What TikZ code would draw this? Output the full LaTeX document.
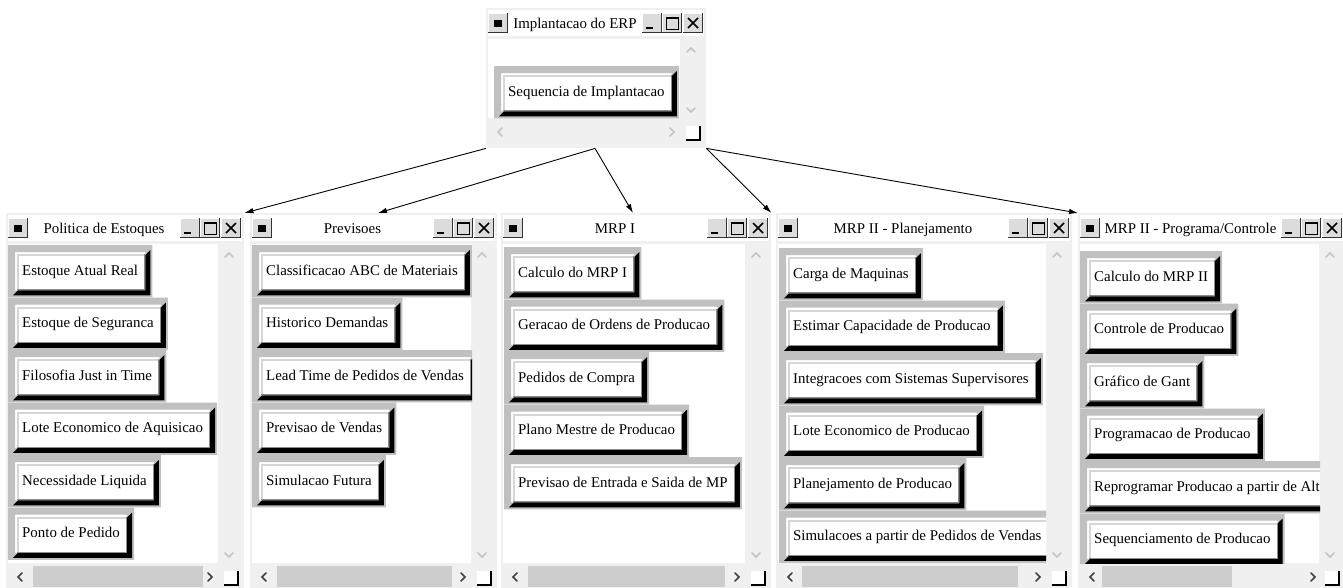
\documentclass[tikz,border=0pt]{standalone}
\usepackage{fontspec}
\setmainfont{Liberation Serif}
\usetikzlibrary{calc,arrows.meta}

\definecolor{winbg}{HTML}{F0F0F0}
\definecolor{framegray}{HTML}{C0C0C0}
\definecolor{facehl}{HTML}{D6D6D6}
\definecolor{thumbgray}{HTML}{CDCDCD}
\definecolor{chevoff}{HTML}{C4C4C4}
\definecolor{chevon}{HTML}{404040}
\definecolor{tbface}{HTML}{DCDCDC}

\tikzset{
  winbox/.style={fill=winbg, draw=none, inner sep=0pt, anchor=north west},
  btnface/.style={fill=white, inner xsep=7pt, inner ysep=0pt, minimum height=38pt,
    text height=11pt, text depth=3pt, anchor=north west,
    font=\fontsize{14.9}{18}\selectfont, text=black},
  wtitle/.style={font=\fontsize{14.9}{18}\selectfont, inner sep=0pt, anchor=base},
  chev/.style={line width=1.6pt, line cap=round},
  link/.style={draw=black, line width=0.9pt, -{Latex[length=9pt,width=5.5pt]}},
}

% raised caption button (x0,y0,x1,y1)
\newcommand\tbbtn[4]{%
  \fill[tbface] (#1,#2) rectangle (#3,#4);
  \draw[white, line width=1pt] (#1+0.5,#4-1) -- (#1+0.5,#2+0.5) -- (#3-1,#2+0.5);
  \draw[black!80, line width=1.2pt] (#1,#4-0.6) -- (#3-0.6,#4-0.6) -- (#3-0.6,#2);
}

% scroll-bar arrows: centre x, centre y, colour
\newcommand\chevup[3]{\draw[chev,#3] (#1-4,#2+2) -- (#1,#2-2) -- (#1+4,#2+2);}
\newcommand\chevdown[3]{\draw[chev,#3] (#1-4,#2-2) -- (#1,#2+2) -- (#1+4,#2-2);}
\newcommand\chevleft[3]{\draw[chev,#3] (#1+2,#2-4) -- (#1-2,#2) -- (#1+2,#2+4);}
\newcommand\chevright[3]{\draw[chev,#3] (#1-2,#2-4) -- (#1+2,#2) -- (#1-2,#2+4);}

% size grip in the lower right corner
\newcommand\gripbox[2]{%
  \fill[white] (#1,#2) rectangle (#1+14,#2+14);
  \draw[black, line width=1.4pt] (#1,#2+14) -- (#1+14,#2+14) -- (#1+14,#2);
}

% window: name, left, right, top, content bottom, window bottom, caption
\newcommand\dlgwin[7]{%
  \node[winbox, minimum width={(#3-#2)*1pt}, minimum height={(#6-#4)*1pt}] (#1) at (#2,#4) {};
  \fill[white] (#2+2,#4+2) rectangle (#3-2,#4+28);
  \tbbtn{#2+2}{#4+5}{#2+22}{#4+25}
  \fill[black] (#2+8,#4+11.5) rectangle (#2+16,#4+18.5);
  \tbbtn{#3-64}{#4+5}{#3-44}{#4+25}
  \fill[black] (#3-60,#4+18.5) rectangle (#3-53,#4+21);
  \tbbtn{#3-44}{#4+5}{#3-24}{#4+25}
  \draw[black, line width=1pt] (#3-40,#4+9) rectangle (#3-28,#4+21);
  \draw[black, line width=2pt] (#3-40,#4+10) -- (#3-28,#4+10);
  \tbbtn{#3-23}{#4+5}{#3-3}{#4+25}
  \draw[black, line width=1.5pt] (#3-18,#4+10) -- (#3-8,#4+20) (#3-18,#4+20) -- (#3-8,#4+10);
  \node[wtitle] (#1-cap) at ({(#2+22+#3-64)/2},#4+20) {#7};
  \fill[white] (#2+2,#4+31) rectangle (#3-26,#5);
  \chevup{#3-15}{#4+42}{chevoff}
  \chevdown{#3-15}{#5-8}{chevoff}
  \gripbox{#3-20}{#5+8}
}

% push button: name, frame left, frame top, label
\newcommand\btnrim[1]{%
  \fill[framegray, even odd rule] ($(#1.north west)+(-7,-7)$) rectangle ($(#1.south east)+(7,7)$)
    (#1.north west) rectangle (#1.south east);
  \fill[black] ($(#1.north east)+(0,3)$) -- ($(#1.north east)+(5,-2)$) -- ($(#1.south east)+(5,5)$)
    -- ($(#1.south west)+(-2,5)$) -- ($(#1.south west)+(3,0)$) -- (#1.south east) -- cycle;
  \draw[facehl, line width=2pt] ($(#1.south west)+(3,-1)$) -- ($(#1.north west)+(3,3)$) -- ($(#1.north east)+(-1,3)$);
  \draw[black!45, line width=1pt] ($(#1.north east)+(-0.5,2)$) -- ($(#1.south east)+(-0.5,-0.5)$) -- ($(#1.south west)+(2,-0.5)$);
}
\newcommand\pushbtn[4]{%
  \node[btnface] (#1) at (#2+7,#3+7) {#4};
  \btnrim{#1}
}

\begin{document}
\begin{tikzpicture}[x=1pt,y=-1pt]
\useasboundingbox (0,0) rectangle (1343,587);
\fill[white] (0,0) rectangle (1343,587);

% ---- root window
\dlgwin{w0}{486}{706}{8}{118}{148}{Implantacao do ERP}
\chevleft{500}{132}{chevoff}
\chevright{672}{132}{chevoff}
\begin{scope}
  \clip (488,39) rectangle (680,118);
  \pushbtn{b0a}{494}{66}{Sequencia de Implantacao}
\end{scope}

% ---- Politica de Estoques
\dlgwin{w1}{6}{244}{213}{563}{592}{Politica de Estoques}
\fill[thumbgray] (33,566) rectangle (203,587);
\chevleft{20}{577}{chevon}
\chevright{210}{577}{chevon}
\begin{scope}
  \clip (8,244) rectangle (218,563);
  \pushbtn{b1a}{8}{245}{Estoque Atual Real}
  \pushbtn{b1b}{8}{297.5}{Estoque de Seguranca}
  \pushbtn{b1c}{8}{350}{Filosofia Just in Time}
  \pushbtn{b1d}{8}{402.5}{Lote Economico de Aquisicao}
  \pushbtn{b1e}{8}{455}{Necessidade Liquida}
  \pushbtn{b1f}{8}{507.5}{Ponto de Pedido}
\end{scope}

% ---- Previsoes
\dlgwin{w2}{250}{497}{213}{563}{592}{Previsoes}
\fill[thumbgray] (277,566) rectangle (452,587);
\chevleft{264}{577}{chevon}
\chevright{463}{577}{chevon}
\begin{scope}
  \clip (252,244) rectangle (472,563);
  \pushbtn{b2a}{252}{245}{Classificacao ABC de Materiais}
  \pushbtn{b2b}{252}{297.5}{Historico Demandas}
  \pushbtn{b2c}{252}{350}{Lead Time de Pedidos de Vendas}
  \pushbtn{b2d}{252}{402.5}{Previsao de Vendas}
  \pushbtn{b2e}{252}{455}{Simulacao Futura}
\end{scope}

% ---- MRP I
\dlgwin{w3}{501}{771}{213}{563}{592}{MRP I}
\fill[thumbgray] (528,566) rectangle (725,587);
\chevleft{515}{577}{chevon}
\chevright{737}{577}{chevon}
\begin{scope}
  \clip (503,244) rectangle (745,563);
  \pushbtn{b3a}{504}{247}{Calculo do MRP I}
  \pushbtn{b3b}{504}{299.5}{Geracao de Ordens de Producao}
  \pushbtn{b3c}{504}{352}{Pedidos de Compra}
  \pushbtn{b3d}{504}{404.5}{Plano Mestre de Producao}
  \pushbtn{b3e}{504}{457}{Previsao de Entrada e Saida de MP}
\end{scope}

% ---- MRP II - Planejamento
\dlgwin{w4}{776}{1072}{213}{563}{592}{MRP II - Planejamento}
\fill[thumbgray] (802,566) rectangle (1018,587);
\chevleft{790}{577}{chevon}
\chevright{1038}{577}{chevon}
\begin{scope}
  \clip (778,244) rectangle (1046,563);
  \pushbtn{b4a}{779}{248}{Carga de Maquinas}
  \pushbtn{b4b}{779}{300.5}{Estimar Capacidade de Producao}
  \pushbtn{b4c}{779}{353}{Integracoes com Sistemas Supervisores}
  \pushbtn{b4d}{779}{405.5}{Lote Economico de Producao}
  \pushbtn{b4e}{779}{458}{Planejamento de Producao}
  \pushbtn{b4f}{779}{510.5}{Simulacoes a partir de Pedidos de Vendas}
\end{scope}

% ---- MRP II - Programa/Controle
\dlgwin{w5}{1078}{1345}{213}{563}{592}{MRP II - Programa/Controle}
\fill[thumbgray] (1102,566) rectangle (1232,587);
\chevleft{1092}{577}{chevon}
\chevright{1313}{577}{chevon}
\begin{scope}
  \clip (1080,244) rectangle (1320,563);
  \pushbtn{b5a}{1080}{251}{Calculo do MRP II}
  \pushbtn{b5b}{1080}{303.5}{Controle de Producao}
  \pushbtn{b5c}{1080}{356}{Gráfico de Gant}
  \pushbtn{b5d}{1080}{408.5}{Programacao de Producao}
  \pushbtn{b5e}{1080}{461}{Reprogramar Producao a partir de Alt}
  \pushbtn{b5f}{1080}{513.5}{Sequenciamento de Producao}
\end{scope}

% ---- links from the root window
\coordinate (w0-tap) at ($(w0.south west)+(109,0)$);
\draw[link] (w0.south west) -- (w1.north east);
\draw[link] (w0-tap) -- ($(w2.north west)+(128,0)$);
\draw[link] (w0-tap) -- ($(w3.north west)+(132,0)$);
\draw[link] (w0.south east) -- (w3.north east);
\draw[link] (w0.south east) -- (w5.north west);
\end{tikzpicture}
\end{document}
